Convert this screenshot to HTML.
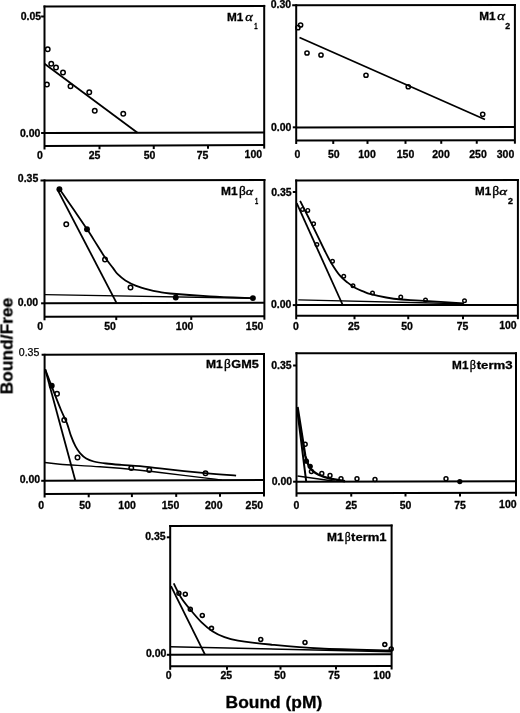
<!DOCTYPE html>
<html><head><meta charset="utf-8"><style>
html,body{margin:0;padding:0;background:#fff;}
svg{display:block;}
svg{font-family:"Liberation Sans",Arial,sans-serif;} text{fill:#000;stroke:none;} text[font-weight="bold"]{stroke:#000;stroke-width:0.3px;} text[font-family="Liberation Serif"]{stroke:#000;stroke-width:0.35px;}
</style></head><body>
<svg width="520" height="713" viewBox="0 0 520 713">
<defs><filter id="soft" filterUnits="userSpaceOnUse" x="0" y="0" width="520" height="713"><feGaussianBlur stdDeviation="0.35"/></filter></defs>
<rect width="520" height="713" fill="#fff"/>
<g stroke="#000" stroke-linecap="butt" filter="url(#soft)">
<line x1="43.5" y1="6.5" x2="265.2" y2="5.9" stroke-width="2.0"/>
<line x1="44.5" y1="5.5" x2="44.5" y2="149.5" stroke-width="2.0"/>
<line x1="264.2" y1="4.9" x2="264.2" y2="148.6" stroke-width="2.0"/>
<line x1="44.5" y1="146" x2="264.2" y2="145.1" stroke-width="2.0"/>
<line x1="44.5" y1="133" x2="264.2" y2="132.4" stroke-width="2.0"/>
<line x1="41.1" y1="16.5" x2="44.5" y2="16.5" stroke-width="2.0"/>
<line x1="41.1" y1="133" x2="44.5" y2="133" stroke-width="2.0"/>
<line x1="99.5" y1="145.77469276285845" x2="99.5" y2="149.27469276285845" stroke-width="2.0"/>
<line x1="153.75" y1="145.55245789713246" x2="153.75" y2="149.05245789713246" stroke-width="2.0"/>
<line x1="208" y1="145.33022303140646" x2="208" y2="148.83022303140646" stroke-width="2.0"/>
<text x="41.1" y="20.41" font-size="10.5" font-weight="bold" text-anchor="end" >0.05</text>
<text x="40.4" y="136.76" font-size="10.5" font-weight="bold" text-anchor="end" >0.00</text>
<text x="40" y="158.76" font-size="10.5" font-weight="bold" text-anchor="middle" >0</text>
<text x="94.5" y="158.76" font-size="10.5" font-weight="bold" text-anchor="middle" >25</text>
<text x="149.5" y="158.76" font-size="10.5" font-weight="bold" text-anchor="middle" >50</text>
<text x="202.5" y="158.76" font-size="10.5" font-weight="bold" text-anchor="middle" >75</text>
<text x="262.09999999999997" y="158.16" font-size="10.5" font-weight="bold" text-anchor="end" >100</text>
<text x="226.98" y="20.8" font-size="11" font-family="Liberation Sans" font-weight="bold" font-style="normal" textLength="16.37" lengthAdjust="spacingAndGlyphs">M1</text>
<text x="245.17" y="20.9" font-size="12" font-family="Liberation Serif" font-weight="normal" font-style="italic" textLength="7.51" lengthAdjust="spacingAndGlyphs">α</text>
<text x="254.24" y="29.2" font-size="9" font-family="Liberation Sans" font-weight="bold" font-style="normal" textLength="3.31" lengthAdjust="spacingAndGlyphs">1</text>
<line x1="44.5" y1="63.75" x2="137.5" y2="132.8" stroke-width="1.8"/>
<circle cx="47.7" cy="49.2" r="2.25" fill="none" stroke-width="1.5"/>
<circle cx="51.25" cy="63.75" r="2.25" fill="none" stroke-width="1.5"/>
<circle cx="56" cy="67.5" r="2.25" fill="none" stroke-width="1.5"/>
<circle cx="63" cy="72.5" r="2.25" fill="none" stroke-width="1.5"/>
<circle cx="46.9" cy="84.5" r="2.25" fill="none" stroke-width="1.5"/>
<circle cx="70.5" cy="86.25" r="2.25" fill="none" stroke-width="1.5"/>
<circle cx="89.25" cy="92.25" r="2.25" fill="none" stroke-width="1.5"/>
<circle cx="94.75" cy="110.75" r="2.25" fill="none" stroke-width="1.5"/>
<circle cx="123.25" cy="113.75" r="2.25" fill="none" stroke-width="1.5"/>
<line x1="292.2" y1="5.2" x2="515.9" y2="5.0" stroke-width="2.0"/>
<line x1="296.2" y1="4.2" x2="296.2" y2="144.0" stroke-width="2.0"/>
<line x1="514.9" y1="4.0" x2="514.9" y2="143.7" stroke-width="2.0"/>
<line x1="296.2" y1="140.5" x2="514.9" y2="140.2" stroke-width="2.0"/>
<line x1="296.2" y1="127.4" x2="514.9" y2="127.0" stroke-width="2.0"/>
<line x1="292.8" y1="127.3" x2="296.2" y2="127.3" stroke-width="2.0"/>
<line x1="333.25" y1="140.4491769547325" x2="333.25" y2="143.9491769547325" stroke-width="2.0"/>
<line x1="367.5" y1="140.40219478737995" x2="367.5" y2="143.90219478737995" stroke-width="2.0"/>
<line x1="405.5" y1="140.35006858710562" x2="405.5" y2="143.85006858710562" stroke-width="2.0"/>
<line x1="441.25" y1="140.30102880658436" x2="441.25" y2="143.80102880658436" stroke-width="2.0"/>
<line x1="476.75" y1="140.2523319615912" x2="476.75" y2="143.7523319615912" stroke-width="2.0"/>
<text x="291.2" y="8.16" font-size="10.5" font-weight="bold" text-anchor="end" >0.30</text>
<text x="291.4" y="130.96" font-size="10.5" font-weight="bold" text-anchor="end" >0.00</text>
<text x="297.3" y="157.56" font-size="10.5" font-weight="bold" text-anchor="middle" >0</text>
<text x="333.75" y="157.56" font-size="10.5" font-weight="bold" text-anchor="middle" >50</text>
<text x="367" y="157.56" font-size="10.5" font-weight="bold" text-anchor="middle" >100</text>
<text x="405.5" y="157.56" font-size="10.5" font-weight="bold" text-anchor="middle" >150</text>
<text x="441" y="157.56" font-size="10.5" font-weight="bold" text-anchor="middle" >200</text>
<text x="478" y="157.56" font-size="10.5" font-weight="bold" text-anchor="middle" >250</text>
<text x="514.3" y="157.56" font-size="10.5" font-weight="bold" text-anchor="end" >300</text>
<text x="479.18" y="20.2" font-size="11" font-family="Liberation Sans" font-weight="bold" font-style="normal" textLength="16.37" lengthAdjust="spacingAndGlyphs">M1</text>
<text x="497.36" y="20.3" font-size="12" font-family="Liberation Serif" font-weight="normal" font-style="italic" textLength="7.62" lengthAdjust="spacingAndGlyphs">α</text>
<text x="505.34" y="28.8" font-size="9" font-family="Liberation Sans" font-weight="bold" font-style="normal" textLength="4.88" lengthAdjust="spacingAndGlyphs">2</text>
<line x1="299.5" y1="37.5" x2="485" y2="119.5" stroke-width="1.8"/>
<circle cx="300.6" cy="25" r="2.1" fill="none" stroke-width="1.5"/>
<circle cx="297.9" cy="27.7" r="2.1" fill="none" stroke-width="1.5"/>
<circle cx="307" cy="53" r="2.1" fill="none" stroke-width="1.5"/>
<circle cx="321" cy="55" r="2.1" fill="none" stroke-width="1.5"/>
<circle cx="366" cy="75.25" r="2.1" fill="none" stroke-width="1.5"/>
<circle cx="408.25" cy="86.75" r="2.1" fill="none" stroke-width="1.5"/>
<circle cx="482.7" cy="114.3" r="2.1" fill="none" stroke-width="1.5"/>
<line x1="40.5" y1="180.4" x2="265.4" y2="180.0" stroke-width="2.0"/>
<line x1="44.5" y1="179.4" x2="44.5" y2="320.3" stroke-width="2.0"/>
<line x1="264.4" y1="179.0" x2="264.4" y2="319.7" stroke-width="2.0"/>
<line x1="44.5" y1="316.8" x2="264.4" y2="316.2" stroke-width="2.0"/>
<line x1="44.5" y1="303.3" x2="264.4" y2="302.8" stroke-width="2.0"/>
<line x1="41.1" y1="303.3" x2="44.5" y2="303.3" stroke-width="2.0"/>
<line x1="116.25" y1="316.6042291950887" x2="116.25" y2="320.1042291950887" stroke-width="2.0"/>
<line x1="191.25" y1="316.39959072305595" x2="191.25" y2="319.89959072305595" stroke-width="2.0"/>
<text x="38.3" y="182.16" font-size="10.5" font-weight="bold" text-anchor="end" >0.35</text>
<text x="38.1" y="305.56" font-size="10.5" font-weight="bold" text-anchor="end" >0.00</text>
<text x="40.2" y="330.36" font-size="10.5" font-weight="bold" text-anchor="middle" >0</text>
<text x="110" y="330.36" font-size="10.5" font-weight="bold" text-anchor="middle" >50</text>
<text x="184.6" y="330.36" font-size="10.5" font-weight="bold" text-anchor="middle" >100</text>
<text x="263.4" y="329.56" font-size="10.5" font-weight="bold" text-anchor="end" >150</text>
<text x="220.96" y="194.8" font-size="11" font-family="Liberation Sans" font-weight="bold" font-style="normal" textLength="16.58" lengthAdjust="spacingAndGlyphs">M1</text>
<text x="238.90" y="195.2" font-size="12" font-family="Liberation Serif" font-weight="normal" font-style="normal" textLength="6.83" lengthAdjust="spacingAndGlyphs">β</text>
<text x="245.68" y="194.9" font-size="10.5" font-family="Liberation Serif" font-weight="normal" font-style="italic" textLength="7.31" lengthAdjust="spacingAndGlyphs">α</text>
<text x="255.06" y="203.6" font-size="9" font-family="Liberation Sans" font-weight="bold" font-style="normal" textLength="3.20" lengthAdjust="spacingAndGlyphs">1</text>
<line x1="58.3" y1="191.1" x2="116.5" y2="302.8" stroke-width="1.8"/>
<path d="M59.50,189.00 C61.92,192.50 69.42,203.32 74.00,210.00 C78.58,216.68 83.15,223.27 87.00,229.10 C90.85,234.93 94.03,240.17 97.10,245.00 C100.17,249.83 102.73,254.25 105.40,258.10 C108.07,261.95 111.05,265.42 113.10,268.10 C115.15,270.78 115.65,272.15 117.70,274.20 C119.75,276.25 122.32,278.47 125.40,280.40 C128.48,282.33 132.35,284.27 136.20,285.80 C140.05,287.33 144.67,288.58 148.50,289.60 C152.33,290.62 155.62,291.25 159.20,291.90 C162.78,292.55 161.53,292.77 170.00,293.50 C178.47,294.23 196.17,295.53 210.00,296.30 C223.83,297.07 245.83,297.80 253.00,298.10" fill="none" stroke-width="1.8" stroke-linejoin="round"/>
<line x1="44.5" y1="294.6" x2="253" y2="298.3" stroke-width="1.4"/>
<circle cx="59.4" cy="189.2" r="2.95" fill="#000" stroke="none"/>
<circle cx="66.25" cy="224.25" r="2.25" fill="none" stroke-width="1.5"/>
<circle cx="87" cy="229.25" r="2.95" fill="#000" stroke="none"/>
<circle cx="105" cy="259.5" r="2.25" fill="none" stroke-width="1.5"/>
<circle cx="130.5" cy="287.5" r="2.25" fill="none" stroke-width="1.5"/>
<circle cx="175.75" cy="297.5" r="2.95" fill="#000" stroke="none"/>
<circle cx="252.9" cy="298.1" r="2.95" fill="#000" stroke="none"/>
<line x1="295.2" y1="180.5" x2="518.9" y2="180.0" stroke-width="2.0"/>
<line x1="296.2" y1="179.5" x2="296.2" y2="319.3" stroke-width="2.0"/>
<line x1="517.9" y1="179.0" x2="517.9" y2="319.2" stroke-width="2.0"/>
<line x1="296.2" y1="315.8" x2="517.9" y2="315.7" stroke-width="2.0"/>
<line x1="296.2" y1="305.1" x2="517.9" y2="304.9" stroke-width="2.0"/>
<line x1="292.8" y1="192" x2="296.2" y2="192" stroke-width="2.0"/>
<line x1="292.8" y1="305.1" x2="296.2" y2="305.1" stroke-width="2.0"/>
<line x1="354.5" y1="315.77370320252595" x2="354.5" y2="319.27370320252595" stroke-width="2.0"/>
<line x1="408.25" y1="315.74945872801084" x2="408.25" y2="319.24945872801084" stroke-width="2.0"/>
<line x1="463" y1="315.7247631935047" x2="463" y2="319.2247631935047" stroke-width="2.0"/>
<text x="291.65" y="195.76" font-size="10.5" font-weight="bold" text-anchor="end" >0.35</text>
<text x="291.4" y="308.16" font-size="10.5" font-weight="bold" text-anchor="end" >0.00</text>
<text x="295.8" y="329.56" font-size="10.5" font-weight="bold" text-anchor="middle" >0</text>
<text x="353.75" y="329.56" font-size="10.5" font-weight="bold" text-anchor="middle" >25</text>
<text x="407" y="329.56" font-size="10.5" font-weight="bold" text-anchor="middle" >50</text>
<text x="462.5" y="329.56" font-size="10.5" font-weight="bold" text-anchor="middle" >75</text>
<text x="516.6999999999999" y="328.96" font-size="10.5" font-weight="bold" text-anchor="end" >100</text>
<text x="474.99" y="194.8" font-size="11" font-family="Liberation Sans" font-weight="bold" font-style="normal" textLength="16.15" lengthAdjust="spacingAndGlyphs">M1</text>
<text x="492.38" y="195.2" font-size="12" font-family="Liberation Serif" font-weight="normal" font-style="normal" textLength="6.95" lengthAdjust="spacingAndGlyphs">β</text>
<text x="499.15" y="194.9" font-size="10.5" font-family="Liberation Serif" font-weight="normal" font-style="italic" textLength="7.82" lengthAdjust="spacingAndGlyphs">α</text>
<text x="508.03" y="203.6" font-size="9" font-family="Liberation Sans" font-weight="bold" font-style="normal" textLength="4.99" lengthAdjust="spacingAndGlyphs">2</text>
<line x1="296.7" y1="203.2" x2="342.5" y2="304.5" stroke-width="1.8"/>
<path d="M300.10,200.80 C302.08,204.75 307.95,216.30 312.00,224.50 C316.05,232.70 321.22,243.63 324.40,250.00 C327.58,256.37 328.50,258.42 331.10,262.70 C333.70,266.98 337.23,272.38 340.00,275.70 C342.77,279.02 345.13,280.55 347.70,282.60 C350.27,284.65 352.83,286.53 355.40,288.00 C357.97,289.47 360.53,290.37 363.10,291.40 C365.67,292.43 366.95,293.18 370.80,294.20 C374.65,295.22 381.08,296.62 386.20,297.50 C391.32,298.38 395.87,298.98 401.50,299.50 C407.13,300.02 409.62,299.97 420.00,300.60 C430.38,301.23 456.46,302.85 463.75,303.30" fill="none" stroke-width="1.8" stroke-linejoin="round"/>
<line x1="298.3" y1="299.9" x2="463.75" y2="303.75" stroke-width="1.4"/>
<circle cx="302.5" cy="209.4" r="1.8" fill="none" stroke-width="1.4"/>
<circle cx="307.8" cy="210.4" r="1.8" fill="none" stroke-width="1.4"/>
<circle cx="313.6" cy="223.8" r="1.8" fill="none" stroke-width="1.4"/>
<circle cx="316.9" cy="244.5" r="1.8" fill="none" stroke-width="1.4"/>
<circle cx="332.5" cy="261.25" r="1.8" fill="none" stroke-width="1.4"/>
<circle cx="343.75" cy="276.25" r="1.8" fill="none" stroke-width="1.4"/>
<circle cx="353" cy="285.75" r="1.8" fill="none" stroke-width="1.4"/>
<circle cx="372.5" cy="293" r="1.8" fill="none" stroke-width="1.4"/>
<circle cx="400.75" cy="297" r="1.8" fill="none" stroke-width="1.4"/>
<circle cx="425.5" cy="300" r="1.8" fill="none" stroke-width="1.4"/>
<circle cx="464.5" cy="300.75" r="1.8" fill="none" stroke-width="1.4"/>
<line x1="41.6" y1="354.8" x2="265.0" y2="354.0" stroke-width="2.0"/>
<line x1="44.6" y1="353.8" x2="44.6" y2="497.5" stroke-width="2.0"/>
<line x1="264.0" y1="353.0" x2="264.0" y2="496.5" stroke-width="2.0"/>
<line x1="44.6" y1="494" x2="264.0" y2="493" stroke-width="2.0"/>
<line x1="44.6" y1="480.8" x2="264.0" y2="480.0" stroke-width="2.0"/>
<line x1="41.2" y1="480.8" x2="44.6" y2="480.8" stroke-width="2.0"/>
<line x1="88.7" y1="493.7989972652689" x2="88.7" y2="497.2989972652689" stroke-width="2.0"/>
<line x1="131.9" y1="493.602096627165" x2="131.9" y2="497.102096627165" stroke-width="2.0"/>
<line x1="176.2" y1="493.40018231540563" x2="176.2" y2="496.90018231540563" stroke-width="2.0"/>
<line x1="220" y1="493.20054694621695" x2="220" y2="496.70054694621695" stroke-width="2.0"/>
<text x="39.4" y="356.2" font-size="10.5" font-weight="normal" text-anchor="end" textLength="20.6" lengthAdjust="spacingAndGlyphs" style="stroke:#000;stroke-width:0.25px">0.35</text>
<text x="40.1" y="482.76" font-size="10.5" font-weight="bold" text-anchor="end" >0.00</text>
<text x="41.2" y="509.06" font-size="10.5" font-weight="bold" text-anchor="middle" >0</text>
<text x="85" y="509.06" font-size="10.5" font-weight="bold" text-anchor="middle" >50</text>
<text x="127.1" y="509.06" font-size="10.5" font-weight="bold" text-anchor="middle" >100</text>
<text x="170.5" y="509.06" font-size="10.5" font-weight="bold" text-anchor="middle" >150</text>
<text x="213.75" y="509.06" font-size="10.5" font-weight="bold" text-anchor="middle" >200</text>
<text x="263.09999999999997" y="508.76" font-size="10.5" font-weight="bold" text-anchor="end" >250</text>
<text x="206.05" y="368.3" font-size="11" font-family="Liberation Sans" font-weight="bold" font-style="normal" textLength="16.80" lengthAdjust="spacingAndGlyphs">M1</text>
<text x="224.00" y="368.4" font-size="12" font-family="Liberation Serif" font-weight="normal" font-style="normal" textLength="6.83" lengthAdjust="spacingAndGlyphs">β</text>
<text x="231.39" y="368.3" font-size="11" font-family="Liberation Sans" font-weight="bold" font-style="normal" textLength="27.45" lengthAdjust="spacingAndGlyphs">GM5</text>
<line x1="45.2" y1="369.2" x2="75.3" y2="480.6" stroke-width="1.8"/>
<path d="M45.20,369.20 C46.73,373.23 51.77,386.60 54.40,393.40 C57.03,400.20 58.92,405.05 61.00,410.00 C63.08,414.95 65.27,418.87 66.90,423.10 C68.53,427.33 69.38,431.55 70.80,435.40 C72.22,439.25 73.87,443.25 75.40,446.20 C76.93,449.15 78.20,451.05 80.00,453.10 C81.80,455.15 83.90,457.10 86.20,458.50 C88.50,459.90 90.47,460.67 93.80,461.50 C97.13,462.33 101.58,462.93 106.20,463.50 C110.82,464.07 115.87,464.45 121.50,464.90 C127.13,465.35 133.58,465.62 140.00,466.20 C146.42,466.78 149.12,467.23 160.00,468.40 C170.88,469.57 192.62,472.00 205.30,473.20 C217.98,474.40 230.97,475.20 236.10,475.60" fill="none" stroke-width="1.8" stroke-linejoin="round"/>
<path d="M44.60,462.50 C47.17,462.78 50.77,463.48 60.00,464.20 C69.23,464.92 86.67,465.80 100.00,466.80 C113.33,467.80 130.00,469.25 140.00,470.20 C150.00,471.15 148.60,471.13 160.00,472.50 C171.40,473.87 198.07,477.12 208.40,478.40 C218.73,479.68 219.73,479.90 222.00,480.20" fill="none" stroke-width="1.4" stroke-linejoin="round"/>
<circle cx="51.75" cy="385.75" r="2.95" fill="#000" stroke="none"/>
<circle cx="57" cy="393.75" r="2.25" fill="none" stroke-width="1.5"/>
<circle cx="64.25" cy="420" r="2.25" fill="none" stroke-width="1.5"/>
<circle cx="77.5" cy="457.5" r="2.25" fill="none" stroke-width="1.5"/>
<circle cx="131.25" cy="468" r="2.25" fill="none" stroke-width="1.5"/>
<circle cx="149.25" cy="470" r="2.25" fill="none" stroke-width="1.5"/>
<circle cx="205.5" cy="473.25" r="2.25" fill="none" stroke-width="1.5"/>
<line x1="295.5" y1="353.2" x2="517.0" y2="353.2" stroke-width="2.0"/>
<line x1="296.5" y1="352.2" x2="296.5" y2="496.7" stroke-width="2.0"/>
<line x1="516.0" y1="352.2" x2="516.0" y2="496.3" stroke-width="2.0"/>
<line x1="296.5" y1="493.2" x2="516.0" y2="492.8" stroke-width="2.0"/>
<line x1="296.5" y1="481.7" x2="516.0" y2="481.3" stroke-width="2.0"/>
<line x1="293.1" y1="365.5" x2="296.5" y2="365.5" stroke-width="2.0"/>
<line x1="293.1" y1="481.7" x2="296.5" y2="481.7" stroke-width="2.0"/>
<line x1="351.25" y1="493.10022779043277" x2="351.25" y2="496.60022779043277" stroke-width="2.0"/>
<line x1="405.5" y1="493.0013667425968" x2="405.5" y2="496.5013667425968" stroke-width="2.0"/>
<line x1="460" y1="492.9020501138952" x2="460" y2="496.4020501138952" stroke-width="2.0"/>
<text x="291.65" y="369.26" font-size="10.5" font-weight="bold" text-anchor="end" >0.35</text>
<text x="292.2" y="484.76" font-size="10.5" font-weight="bold" text-anchor="end" >0.00</text>
<text x="296.4" y="508.76" font-size="10.5" font-weight="bold" text-anchor="middle" >0</text>
<text x="351.25" y="508.76" font-size="10.5" font-weight="bold" text-anchor="middle" >25</text>
<text x="405.5" y="508.76" font-size="10.5" font-weight="bold" text-anchor="middle" >50</text>
<text x="460" y="508.76" font-size="10.5" font-weight="bold" text-anchor="middle" >75</text>
<text x="516.6" y="508.36" font-size="10.5" font-weight="bold" text-anchor="end" >100</text>
<text x="452.08" y="368.5" font-size="11" font-family="Liberation Sans" font-weight="bold" font-style="normal" textLength="16.37" lengthAdjust="spacingAndGlyphs">M1</text>
<text x="469.87" y="368.6" font-size="12" font-family="Liberation Serif" font-weight="normal" font-style="normal" textLength="6.21" lengthAdjust="spacingAndGlyphs">β</text>
<text x="476.67" y="368.5" font-size="11" font-family="Liberation Sans" font-weight="bold" font-style="normal" textLength="35.98" lengthAdjust="spacingAndGlyphs">term3</text>
<line x1="296.9" y1="407.5" x2="306.2" y2="481.4" stroke-width="2.0"/>
<path d="M297.5,407 L305.2,455.5 C307,462 308,465 310.2,468.2 C314,472.5 317,474.5 321.6,475.8 C326,477.5 329,478.5 331.7,478.9 L345,481.2" fill="none" stroke-width="2.4" stroke-linejoin="round"/>
<line x1="297.5" y1="476" x2="335" y2="481.2" stroke-width="1.4"/>
<circle cx="305.2" cy="444.2" r="1.95" fill="none" stroke-width="1.5"/>
<circle cx="306.4" cy="461.2" r="2.65" fill="#000" stroke="none"/>
<circle cx="310.2" cy="466.3" r="2.65" fill="#000" stroke="none"/>
<circle cx="311.4" cy="471.5" r="1.95" fill="none" stroke-width="1.5"/>
<circle cx="321.8" cy="473.5" r="1.95" fill="none" stroke-width="1.5"/>
<circle cx="330" cy="475.5" r="1.95" fill="none" stroke-width="1.5"/>
<circle cx="341" cy="478.75" r="1.95" fill="none" stroke-width="1.5"/>
<circle cx="357" cy="478.75" r="1.95" fill="none" stroke-width="1.5"/>
<circle cx="375" cy="479.5" r="1.95" fill="none" stroke-width="1.5"/>
<circle cx="446" cy="478.75" r="1.95" fill="none" stroke-width="1.5"/>
<circle cx="459.8" cy="481.6" r="2.65" fill="#000" stroke="none"/>
<line x1="169.2" y1="526" x2="392.6" y2="525.5" stroke-width="2.0"/>
<line x1="170.2" y1="525.0" x2="170.2" y2="669.8" stroke-width="2.0"/>
<line x1="391.6" y1="524.5" x2="391.6" y2="669.5" stroke-width="2.0"/>
<line x1="170.2" y1="666.3" x2="391.6" y2="666" stroke-width="2.0"/>
<line x1="170.2" y1="654.8" x2="391.6" y2="654.2" stroke-width="2.0"/>
<line x1="166.79999999999998" y1="537.3" x2="170.2" y2="537.3" stroke-width="2.0"/>
<line x1="166.79999999999998" y1="654.8" x2="170.2" y2="654.8" stroke-width="2.0"/>
<line x1="227" y1="666.2230352303523" x2="227" y2="669.7230352303523" stroke-width="2.0"/>
<line x1="280.5" y1="666.15054200542" x2="280.5" y2="669.65054200542" stroke-width="2.0"/>
<line x1="336" y1="666.0753387533875" x2="336" y2="669.5753387533875" stroke-width="2.0"/>
<text x="165.6" y="539.76" font-size="10.5" font-weight="bold" text-anchor="end" >0.35</text>
<text x="166.4" y="657.46" font-size="10.5" font-weight="bold" text-anchor="end" >0.00</text>
<text x="168.7" y="679.36" font-size="10.5" font-weight="bold" text-anchor="middle" >0</text>
<text x="226.25" y="679.36" font-size="10.5" font-weight="bold" text-anchor="middle" >25</text>
<text x="280" y="679.36" font-size="10.5" font-weight="bold" text-anchor="middle" >50</text>
<text x="334" y="679.36" font-size="10.5" font-weight="bold" text-anchor="middle" >75</text>
<text x="390.9" y="679.26" font-size="10.5" font-weight="bold" text-anchor="end" >100</text>
<text x="326.96" y="540.8" font-size="11" font-family="Liberation Sans" font-weight="bold" font-style="normal" textLength="16.58" lengthAdjust="spacingAndGlyphs">M1</text>
<text x="344.80" y="540.9" font-size="12" font-family="Liberation Serif" font-weight="normal" font-style="normal" textLength="5.96" lengthAdjust="spacingAndGlyphs">β</text>
<text x="351.07" y="540.8" font-size="11" font-family="Liberation Sans" font-weight="bold" font-style="normal" textLength="35.54" lengthAdjust="spacingAndGlyphs">term1</text>
<line x1="171" y1="586.1" x2="205" y2="654.7" stroke-width="1.8"/>
<path d="M173.70,583.40 C175.00,585.87 178.63,593.72 181.50,598.20 C184.37,602.68 187.55,606.27 190.90,610.30 C194.25,614.33 198.02,618.92 201.60,622.40 C205.18,625.88 208.58,628.73 212.40,631.20 C216.22,633.67 220.23,635.63 224.50,637.20 C228.77,638.77 230.42,639.38 238.00,640.60 C245.58,641.82 256.33,643.18 270.00,644.50 C283.67,645.82 299.83,647.50 320.00,648.50 C340.17,649.50 379.17,650.17 391.00,650.50" fill="none" stroke-width="1.8" stroke-linejoin="round"/>
<line x1="170.2" y1="646.7" x2="391" y2="651.8" stroke-width="1.4"/>
<circle cx="178.9" cy="593.3" r="1.95" fill="none" stroke-width="1.6"/>
<circle cx="185.3" cy="594.2" r="1.95" fill="none" stroke-width="1.6"/>
<circle cx="190.3" cy="609.3" r="1.95" fill="none" stroke-width="1.6"/>
<circle cx="202.3" cy="615.4" r="1.95" fill="none" stroke-width="1.6"/>
<circle cx="211.5" cy="628.3" r="1.95" fill="none" stroke-width="1.6"/>
<circle cx="260.75" cy="639.5" r="1.95" fill="none" stroke-width="1.6"/>
<circle cx="305" cy="642.5" r="1.95" fill="none" stroke-width="1.6"/>
<circle cx="384.8" cy="644.6" r="1.95" fill="none" stroke-width="1.6"/>
<circle cx="391.2" cy="648.9" r="1.95" fill="none" stroke-width="1.6"/>
<text x="225.6" y="708.2" font-size="16.5" font-weight="bold" textLength="96.6" lengthAdjust="spacingAndGlyphs">Bound (pM)</text>
<text x="0" y="0" font-size="16.5" font-weight="bold" textLength="96.7" lengthAdjust="spacingAndGlyphs" transform="translate(12.5,394.4) rotate(-90)">Bound/Free</text>
</g>
</svg>
</body></html>
